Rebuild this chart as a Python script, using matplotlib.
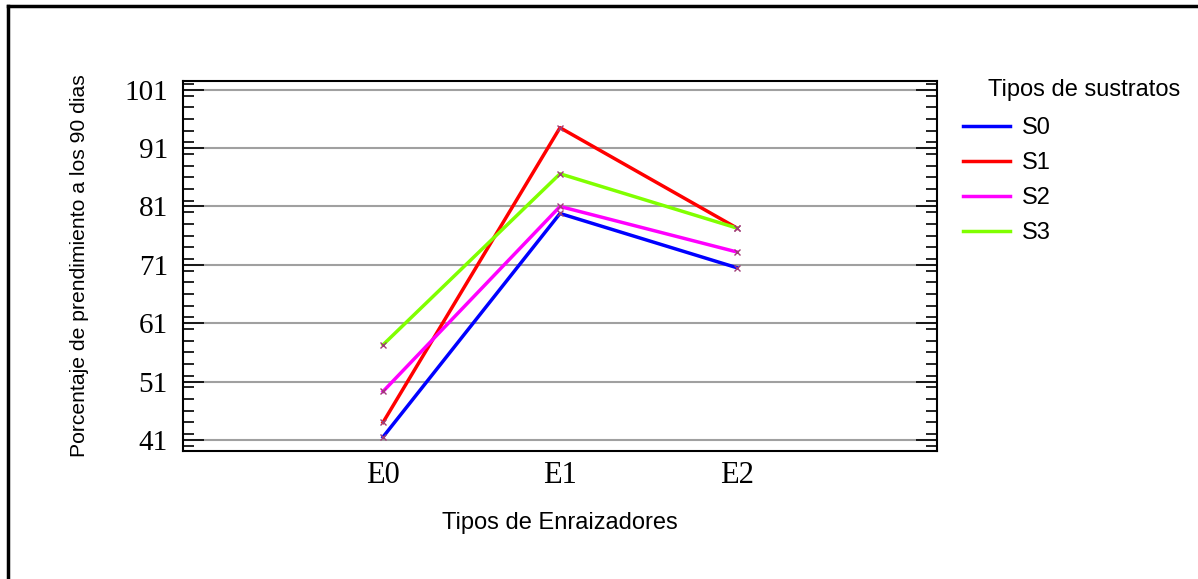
import matplotlib.pyplot as plt
from matplotlib.lines import Line2D
from matplotlib.ticker import MultipleLocator, FixedLocator

# data
enraizadores = ['E0', 'E1', 'E2']
s0 = [41.5, 79.8, 70.5]
s1 = [44.0, 94.5, 77.3]
s2 = [49.3, 81.0, 73.2]
s3 = [57.3, 86.6, 77.3]
series = ['S0', 'S1', 'S2', 'S3']
colores = ['#0000ff', '#ff0000', '#ff00ff', '#80ff00']
yticks = [41, 51, 61, 71, 81, 91, 101]

sans = ['Liberation Sans', 'DejaVu Sans']
serif = ['Liberation Serif', 'DejaVu Serif']

fig = plt.figure(figsize=(11.98, 5.79), dpi=100)
ax = fig.add_axes([0.1528, 0.2211, 0.6293, 0.639])

x = range(len(enraizadores))
for vals, name, c in zip([s0, s1, s2, s3], series, colores):
    ax.plot(x, vals, color=c, lw=2.5, label=name, zorder=3)
    ax.plot(x, vals, ls='none', marker='x', ms=4, mew=1, color='#a03c78', zorder=4)

ax.set_xlim(-1.13, 3.13)
ax.set_ylim(39.1, 102.5)
ax.set_xticks(list(x))
ax.set_xticklabels(enraizadores, family=serif, fontsize=22)
ax.yaxis.set_major_locator(FixedLocator(yticks))
ax.yaxis.set_minor_locator(MultipleLocator(2))
for lab in ax.get_yticklabels():
    lab.set_family(serif)
    lab.set_fontsize(21)
ax.tick_params(axis='y', which='major', direction='in', length=15, width=1.2,
               left=True, right=True, pad=11)
ax.tick_params(axis='y', which='minor', direction='in', length=8, width=1.2,
               left=True, right=True)
ax.tick_params(axis='x', length=0, pad=7)
ax.grid(axis='y', which='major', color='#a0a0a0', lw=1.5, zorder=1)
for sp in ax.spines.values():
    sp.set_linewidth(1.5)

ax.set_xlabel('Tipos de Enraizadores', family=sans, fontsize=17, labelpad=16)
ax.set_ylabel('Porcentaje de prendimiento a los 90 dias', family=sans, fontsize=15.2, labelpad=25)

handles = [Line2D([], [], color=c, lw=2.5) for c in colores]
leg = fig.legend(handles, series, loc='upper left', bbox_to_anchor=(0.8038, 0.798),
                 frameon=False, borderpad=0, borderaxespad=0, handlelength=2.0,
                 handletextpad=0.5, labelspacing=0.55, prop={'family': sans, 'size': 17})
fig.text(988 / 1198, 1 - 90 / 579, 'Tipos de sustratos', family=sans, fontsize=17,
         ha='left', va='center')

# figure border (left and top)
fig.add_artist(Line2D([0.0067, 0.0067], [0, 0.99], color='black', lw=2.5, transform=fig.transFigure))
fig.add_artist(Line2D([0.0067, 1], [0.99, 0.99], color='black', lw=2.5, transform=fig.transFigure))

fig.savefig('out.png', dpi=100)
